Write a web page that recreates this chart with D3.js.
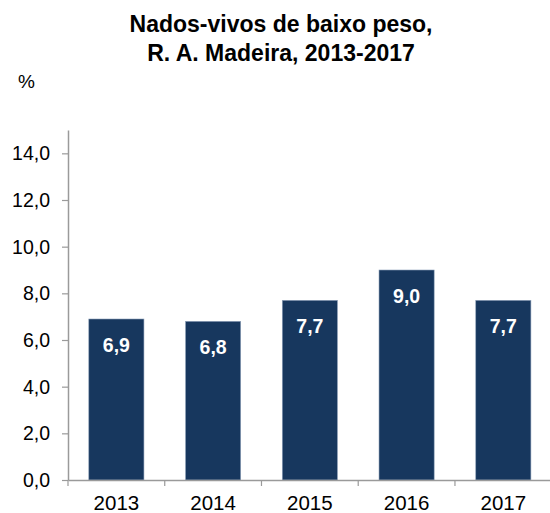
<!DOCTYPE html>
<html>
<head>
<meta charset="utf-8">
<script src="https://cdn.jsdelivr.net/npm/d3@7"></script>
<style>
  body { margin: 0; background: #fff; }
  svg { display: block; font-family: "Liberation Sans", Arial, sans-serif; }
</style>
</head>
<body>
<svg id="chart" width="550" height="513"></svg>
<script>
var years = ["2013", "2014", "2015", "2016", "2017"];
var values = [6.9, 6.8, 7.7, 9.0, 7.7];
var yTicks = [0, 2, 4, 6, 8, 10, 12, 14];
var titleLines = ["Nados-vivos de baixo peso,", "R. A. Madeira, 2013-2017"];

var svg = d3.select("#chart");
var fmt = function(v) { return d3.format(".1f")(v).replace(".", ","); };

var x = d3.scaleBand()
    .domain(years)
    .range([68, 551.7])
    .paddingInner(0.43)
    .paddingOuter(0.215);

var y = d3.scaleLinear()
    .domain([0, 15])
    .range([480, 130]);

// title
svg.append("text")
    .attr("x", 281)
    .attr("y", 32)
    .attr("text-anchor", "middle")
    .style("font-size", "23px")
    .style("font-weight", "bold")
    .selectAll("tspan")
    .data(titleLines)
    .enter().append("tspan")
    .attr("x", 281)
    .attr("dy", function(d, i) { return i ? 29 : 0; })
    .text(function(d) { return d; });

svg.append("text")
    .attr("x", 18)
    .attr("y", 88)
    .style("font-size", "19px")
    .text("%");

// bars
svg.selectAll(".bar")
    .data(values)
    .enter().append("rect")
    .attr("class", "bar")
    .attr("x", function(d, i) { return x(years[i]); })
    .attr("width", x.bandwidth())
    .attr("y", function(d) { return y(d); })
    .attr("height", function(d) { return y(0) - y(d); })
    .attr("fill", "#17375e")
    .attr("stroke", "#8da0b8")
    .attr("stroke-width", 0.6);

svg.selectAll(".lbl")
    .data(values)
    .enter().append("text")
    .attr("class", "lbl")
    .attr("x", function(d, i) { return x(years[i]) + x.bandwidth() / 2; })
    .attr("y", function(d) { return y(d) + 33; })
    .attr("text-anchor", "middle")
    .attr("fill", "#fff")
    .style("font-size", "19.5px")
    .style("font-weight", "bold")
    .text(fmt);

// y axis
var yAxis = svg.append("g")
    .attr("transform", "translate(68,0)")
    .call(d3.axisLeft(y).tickValues(yTicks).tickFormat(fmt).tickSize(6).tickSizeOuter(0).tickPadding(12));
yAxis.select(".domain").attr("stroke", "#9a9a9a").attr("stroke-width", 1.5);
yAxis.selectAll(".tick line").attr("stroke", "#9a9a9a").attr("stroke-width", 1.2);
yAxis.selectAll(".tick text").style("font-size", "19.5px").attr("fill", "#000").attr("dy", "0.34em");

// x axis
var xAxis = svg.append("g")
    .attr("transform", "translate(0,480)")
    .call(d3.axisBottom(x).tickSize(0).tickSizeOuter(0).tickPadding(15));
xAxis.select(".domain").attr("stroke", "#9a9a9a").attr("stroke-width", 1.5);
xAxis.selectAll(".tick text").style("font-size", "20.5px").attr("fill", "#000");

var step = x.step();
var bounds = years.map(function(d) { return x(d) - (step - x.bandwidth()) / 2; });
xAxis.selectAll(".bound")
    .data(bounds)
    .enter().append("line")
    .attr("class", "bound")
    .attr("x1", function(d) { return d; })
    .attr("x2", function(d) { return d; })
    .attr("y1", 0)
    .attr("y2", 6)
    .attr("stroke", "#9a9a9a")
    .attr("stroke-width", 1.2);
</script>
</body>
</html>
